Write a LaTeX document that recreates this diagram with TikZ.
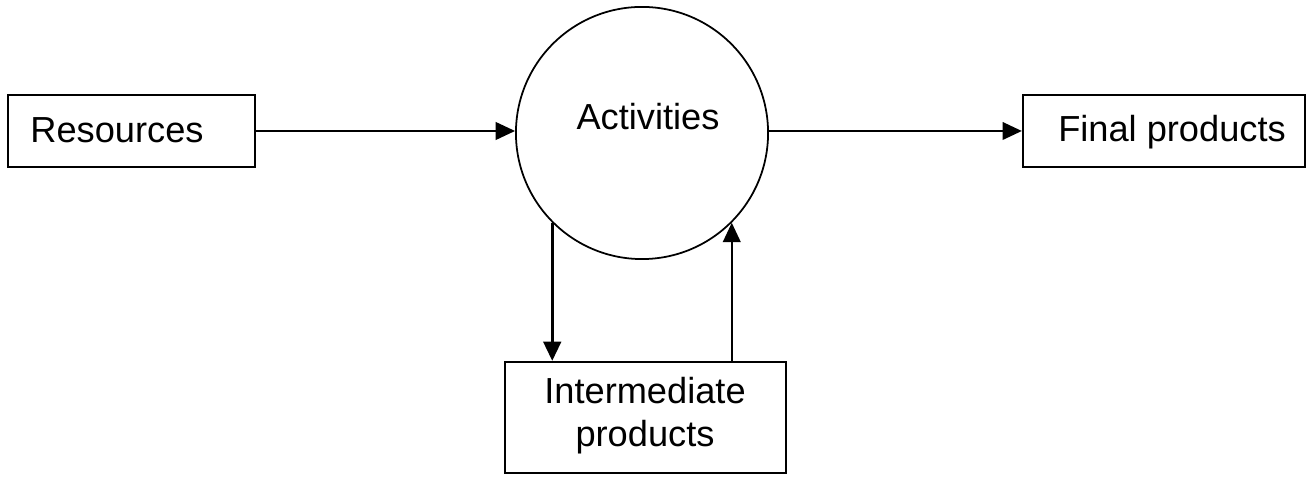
\documentclass[tikz,border=0pt]{standalone}
\usepackage{fontspec}
\setmainfont{Liberation Sans}
\usetikzlibrary{arrows.meta}
\begin{document}
\begin{tikzpicture}[x=0.01cm,y=-0.01cm,
  stagebox/.style={draw,line width=0.6pt,inner sep=0pt},
  lbl/.style={font=\fontsize{10.3}{12.2}\selectfont,inner sep=0pt,align=center},
  flow/.style={line width=0.6pt,-{Triangle[length=5.5pt,width=5pt]}}]
\useasboundingbox (0,0) rectangle (1309,477);
% boxes and the activity circle
\node[stagebox,minimum width=2.47cm,minimum height=0.72cm] (res) at (131.5,131) {};
\node[stagebox,minimum width=2.82cm,minimum height=0.72cm] (fin) at (1164,131) {};
\node[stagebox,minimum width=2.81cm,minimum height=1.11cm] (inter) at (645.5,417.5) {};
\node[draw,circle,line width=0.5pt,minimum size=2.52cm,inner sep=0pt] (circ) at (642,133) {};
% labels
\node[lbl] (tres) at (117,130) {Resources};
\node[lbl] (tact) at (648,117) {Activities};
\node[lbl] (tfin) at (1172,132) {Final products};
\node[lbl] (tint) at (645,416) {Intermediate\\products};
% flows
\draw[flow] (res.east) -- (res.east -| circ.west);
\draw[flow] (circ.east |- fin.west) -- (fin.west);
\draw[flow,line width=0.9pt] (circ.-135) -- (circ.-135 |- inter.north);
\draw[flow] (circ.-45 |- inter.north) -- (circ.-45);
\end{tikzpicture}
\end{document}
